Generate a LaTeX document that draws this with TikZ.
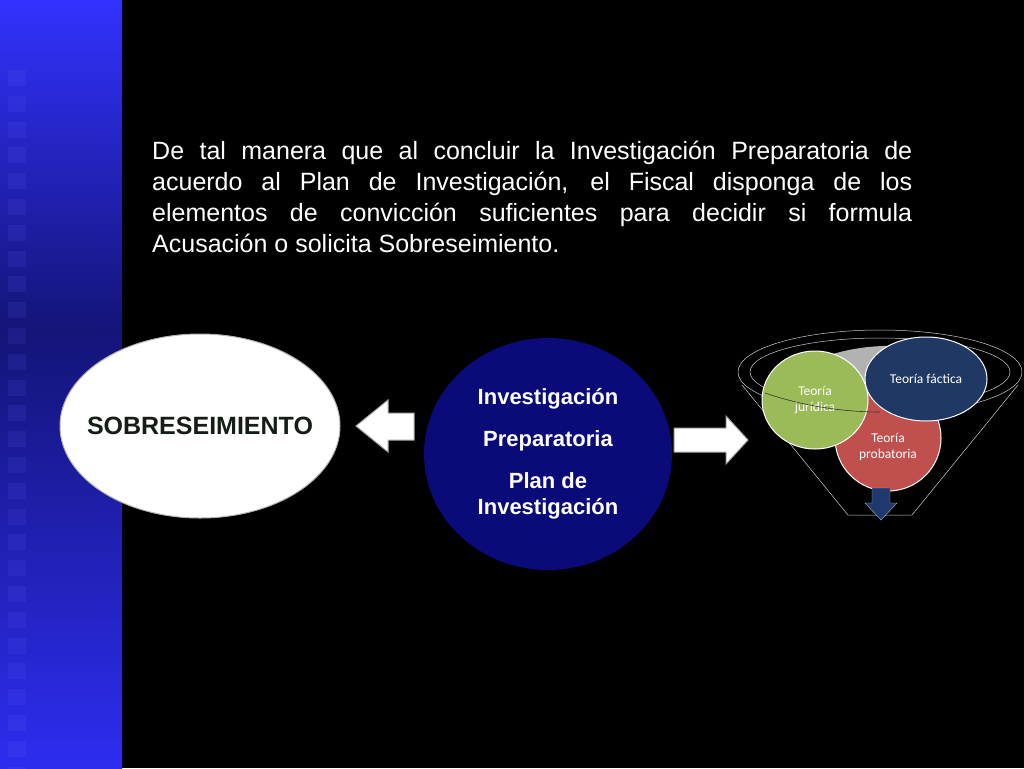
\documentclass[tikz,border=0pt]{standalone}
\usepackage{fontspec}
\usetikzlibrary{shapes.geometric}
\setmainfont{Liberation Sans}
\newfontfamily\carfont{Carlito}
\begin{document}
\begin{tikzpicture}[x=1pt,y=-1pt,
  txt/.style={font=\fontsize{25}{31}\selectfont,text=white},
  blk/.style={fill=white,draw=gray!70,line width=1pt},
  small/.style={text=white,font=\carfont\fontsize{13.5}{16}\selectfont,align=center}]
\useasboundingbox (0,0) rectangle (1024,768);
\fill[black] (0,0) rectangle (1024,768);
\shade[top color={rgb,255:red,50;green,50;blue,255},bottom color={rgb,255:red,20;green,20;blue,120}] (0,0) rectangle (122,330);
\shade[top color={rgb,255:red,20;green,20;blue,120},bottom color={rgb,255:red,45;green,45;blue,240}] (0,330) rectangle (122,768);
\foreach \i in {0,...,28} \fill[blue!60!white,opacity=0.12] (8,{70+\i*25.8}) rectangle (26,{86+\i*25.8});
\node[txt,anchor=north west,text width=760,align=justify,inner sep=0] (para) at (152,141)
{De tal manera que al concluir la Investigación Preparatoria de\linebreak acuerdo al Plan de Investigación, el Fiscal disponga de los\linebreak elementos de convicción suficientes para decidir si formula\linebreak Acusación o solicita Sobreseimiento.};
\node[ellipse,fill=white,draw=gray!60,line width=1pt,minimum width=280,minimum height=184] (sob) at (200,426) {};
\node[font=\bfseries\fontsize{25}{26}\selectfont,text={rgb,255:red,20;green,30;blue,20}] (sobt) at (sob.center) {SOBRESEIMIENTO};
\node[ellipse,fill={rgb,255:red,10;green,10;blue,120},minimum width=248,minimum height=232,align=center,text=white,font=\bfseries\fontsize{22}{26}\selectfont] (inv) at (548,454)
{Investigación\\[16pt]Preparatoria\\[16pt]Plan de\\Investigación};
\draw[blk] (414,413) -- (388,413) -- (388,400) -- (356,426) -- (388,452) -- (388,440) -- (414,440) -- cycle;
\draw[blk] (674,428) -- (726,428) -- (726,416) -- (748,440) -- (726,464) -- (726,452) -- (674,452) -- cycle;
\begin{scope}[draw=gray!40,line width=0.5pt]
\draw (880,372) ellipse (142 and 42);
\draw (880,372) ellipse (130 and 34);
\draw (742,385) -- (848,515) -- (912,515) -- (1018,385);
\end{scope}
\fill[gray!60] (830,355) .. controls (860,345) and (900,343) .. (930,350) -- (900,380) -- (850,385) -- cycle;
\node[circle,fill={rgb,255:red,192;green,80;blue,77},draw=white,line width=1pt,minimum size=106] (prob) at (888,438) {};
\node[small] (probt) at (888,447) {Teoría\\probatoria};
\node[ellipse,fill={rgb,255:red,155;green,187;blue,89},draw=white,line width=1pt,minimum width=106,minimum height=98,small] (jur) at (815,400) {Teoría\\jurídica};
\node[ellipse,fill={rgb,255:red,31;green,56;blue,100},draw=white,line width=1pt,minimum width=122,minimum height=84,small] (fac) at (926,379) {Teoría fáctica};
\draw[gray!40!black,line width=0.6pt] (765,393) .. controls (800,405) and (840,412) .. (880,412);
\draw[fill={rgb,255:red,31;green,56;blue,110},draw=gray!60] (872,488) -- (890,488) -- (890,503) -- (897,503) -- (881,520) -- (865,503) -- (872,503) -- cycle;
\end{tikzpicture}
\end{document}
